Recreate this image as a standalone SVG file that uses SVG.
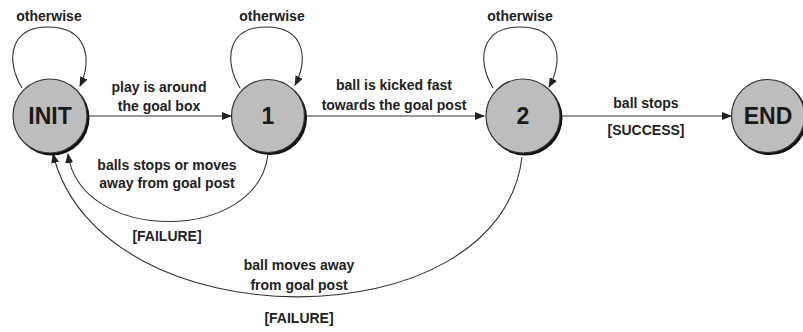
<svg xmlns="http://www.w3.org/2000/svg" width="803" height="332" viewBox="0 0 803 332">
<style>
  .lbl { font-family: "Liberation Sans", Arial, sans-serif; font-weight: bold; font-size: 14px; fill: #222; text-anchor: middle; }
  .nlbl { font-family: "Liberation Sans", Arial, sans-serif; font-weight: bold; font-size: 23px; fill: #1a1a1a; text-anchor: middle; }
  .shadow { fill: #111; }
  .state { fill: #bdbdbd; stroke: #333; stroke-width: 1.2; }
  .edge { fill: none; stroke: #333; stroke-width: 1.1; }
</style>
<defs>
  <marker id="arr" markerUnits="userSpaceOnUse" markerWidth="10" markerHeight="8" refX="9" refY="4" orient="auto">
    <path d="M0,0 L10,4 L0,8 Z" fill="#222"/>
  </marker>
</defs>
<g id="connectors">
  <path class="edge" d="M22,88 C5,60 10,27 48,27 C88,27 92,60 80,86" marker-end="url(#arr)"/>
  <path class="edge" d="M240,88 C223,60 228,27 266,27 C306,27 308,60 295,85" marker-end="url(#arr)"/>
  <path class="edge" d="M493,88 C476,60 481,27 520,27 C560,27 564,60 549,87" marker-end="url(#arr)"/>
  <path class="edge" d="M88,116 L231,116" marker-end="url(#arr)"/>
  <path class="edge" d="M305,116 L484,116" marker-end="url(#arr)"/>
  <path class="edge" d="M561,116 L731,116" marker-end="url(#arr)"/>
  <path class="edge" d="M268,154 C258,244 80,244 68,154" marker-end="url(#arr)"/>
  <path class="edge" d="M522,157 C500,344 100,344 53,154" marker-end="url(#arr)"/>
  <text class="lbl" x="49" y="21">otherwise</text>
  <text class="lbl" x="272" y="21">otherwise</text>
  <text class="lbl" x="520" y="21">otherwise</text>
  <text class="lbl" x="159" y="92">play is around</text>
  <text class="lbl" x="159" y="111">the goal box</text>
  <text class="lbl" x="394" y="90">ball is kicked fast</text>
  <text class="lbl" x="394" y="110">towards the goal post</text>
  <text class="lbl" x="646" y="108">ball stops</text>
  <text class="lbl" x="646" y="135">[SUCCESS]</text>
  <text class="lbl" x="167" y="170">balls stops or moves</text>
  <text class="lbl" x="167" y="188">away from goal post</text>
  <text class="lbl" x="167" y="241">[FAILURE]</text>
  <text class="lbl" x="299" y="270">ball moves away</text>
  <text class="lbl" x="299" y="290">from goal post</text>
  <text class="lbl" x="299" y="323">[FAILURE]</text>
</g>
<g id="INIT">
  <circle class="shadow" cx="52" cy="118" r="37.5"/>
  <circle class="state" cx="50" cy="116" r="37"/>
  <text class="nlbl" x="50" y="124">INIT</text>
</g>
<g id="S1">
  <circle class="shadow" cx="270" cy="118" r="37"/>
  <circle class="state" cx="268" cy="116" r="36.5"/>
  <text class="nlbl" x="268" y="124">1</text>
</g>
<g id="S2">
  <circle class="shadow" cx="525" cy="118" r="37.5"/>
  <circle class="state" cx="523" cy="116" r="37"/>
  <text class="nlbl" x="523" y="124">2</text>
</g>
<g id="END">
  <circle class="shadow" cx="770" cy="118" r="37"/>
  <circle class="state" cx="768" cy="116" r="36.5"/>
  <text class="nlbl" x="768" y="124">END</text>
</g>
</svg>
